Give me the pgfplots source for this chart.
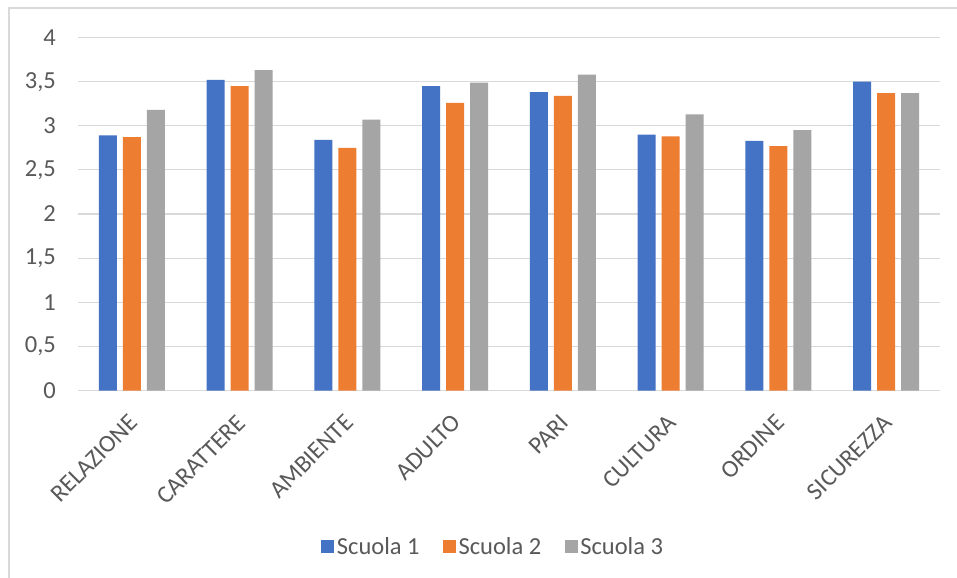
\documentclass[border=0pt]{standalone}
\usepackage{fontspec}
\setmainfont{Carlito}
\usepackage{pgfplots}
\pgfplotsset{compat=1.18}
\definecolor{cblue}{HTML}{4472C4}
\definecolor{corange}{HTML}{ED7D31}
\definecolor{cgray}{HTML}{A5A5A5}
\definecolor{gridc}{HTML}{D9D9D9}
\definecolor{txt}{HTML}{595959}
\newcommand{\chartfont}{\fontsize{24.5bp}{29bp}\selectfont}
\begin{document}
\begin{tikzpicture}
% fixed canvas, same size as the reference image
\useasboundingbox[fill=white] (0,0) rectangle (957bp,-578bp);
% chart frame
\draw[gridc, line width=1.5bp] (9bp,-578bp) -- (9bp,-8bp) -- (957bp,-8bp);
\begin{axis}[
  at={(78bp,-390.5bp)}, anchor=south west,
  scale only axis,
  width=862bp, height=353bp,
  ybar=6bp, bar width=18bp,
  xmin=-0.5, xmax=7.5,
  ymin=0, ymax=4,
  ytick={0,0.5,...,4},
  xtick=data,
  xticklabels={RELAZIONE,CARATTERE,AMBIENTE,ADULTO,PARI,CULTURA,ORDINE,SICUREZZA},
  ymajorgrids=true,
  major grid style={gridc, line width=1.2bp},
  axis line style={draw=none},
  major tick length=0pt,
  tick style={draw=none},
  /pgf/number format/assume math mode=true,
  /pgf/number format/use comma,
  /pgf/number format/fixed,
  yticklabel style={font=\chartfont, text=txt, anchor=east, inner sep=0pt, xshift=-22bp},
  % shifts first so that they act in page coordinates
  xticklabel style={font=\chartfont, text=txt, xshift=-4bp, yshift=-22.5bp,
    rotate=45, anchor=north east, inner sep=0pt},
  legend style={at={(0.482,-0.443)}, anchor=center, draw=none, fill=none,
    font=\chartfont, text=txt, nodes={inner sep=2.5bp},
    /tikz/every even column/.append style={column sep=21bp}},
  legend columns=3,
  legend image code/.code={\fill[#1] (0bp,-6.5bp) rectangle (13bp,6.5bp);},
  legend cell align=left,
]
\addplot[fill=cblue, draw=none] coordinates {
  (0,2.89) (1,3.52) (2,2.84) (3,3.45) (4,3.38) (5,2.90) (6,2.83) (7,3.50)
};
\addlegendentry{Scuola 1}
\addplot[fill=corange, draw=none] coordinates {
  (0,2.87) (1,3.45) (2,2.75) (3,3.26) (4,3.34) (5,2.88) (6,2.77) (7,3.37)
};
\addlegendentry{Scuola 2}
\addplot[fill=cgray, draw=none] coordinates {
  (0,3.18) (1,3.63) (2,3.07) (3,3.49) (4,3.58) (5,3.13) (6,2.95) (7,3.37)
};
\addlegendentry{Scuola 3}
\end{axis}
\end{tikzpicture}
\end{document}
